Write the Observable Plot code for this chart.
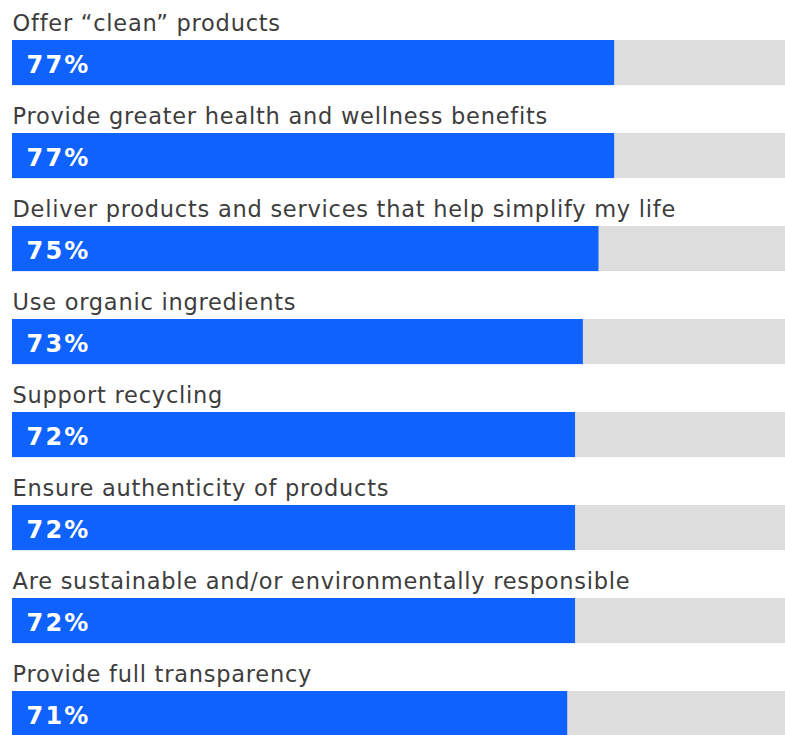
<!DOCTYPE html>
<html>
<head>
<meta charset="utf-8">
<script src="https://cdn.jsdelivr.net/npm/d3@7"></script>
<script src="https://cdn.jsdelivr.net/npm/@observablehq/plot@0.6"></script>
<style>
  body { margin: 0; background: #fff; overflow: hidden; }
  #chart svg { display: block; overflow: hidden; }
</style>
</head>
<body>
<div id="chart"></div>
<script>
const categories = [
  "Offer “clean” products",
  "Provide greater health and wellness benefits",
  "Deliver products and services that help simplify my life",
  "Use organic ingredients",
  "Support recycling",
  "Ensure authenticity of products",
  "Are sustainable and/or environmentally responsible",
  "Provide full transparency"
];
const values = [77, 77, 75, 73, 72, 72, 72, 71];
const fullScale = 100;

const rows = categories.map((c, i) => ({category: c, value: values[i], full: fullScale}));

const pitch = 93.4;
const chart = Plot.plot({
  width: 785,
  height: 735,
  marginTop: 0, marginBottom: 0, marginLeft: 0, marginRight: 0,
  style: {fontFamily: "'DejaVu Sans', sans-serif", background: "#fff"},
  x: {domain: [0, 100], range: [12, 794], axis: null},
  y: {domain: categories, range: [0, pitch * categories.length], padding: 0, axis: null},
  marks: [
    Plot.barX(rows, {x1: 0, x2: "full", y: "category", fill: "#dddddd", insetTop: 38, insetBottom: pitch - 38 - 45.5}),
    Plot.barX(rows, {x1: 0, x2: "value", y: "category", fill: "#0f62fe", insetTop: 38, insetBottom: pitch - 38 - 45.5}),
    Plot.text(rows, {x: 0, y: "category", text: "category", textAnchor: "start", lineAnchor: "bottom", dy: -(pitch / 2 - 38 + 9), fontSize: 22.5, fill: "#3d3d3d"}),
    Plot.text(rows, {x: 0, y: "category", text: d => d.value + "%", textAnchor: "start", dx: 14, dy: 38 + 22.75 - pitch / 2 + 2.5, fontSize: 24, fontWeight: "bold", fill: "#fff"})
  ]
});
const textGroups = chart.querySelectorAll('g[aria-label="text"]');
textGroups[0].style.letterSpacing = "0.75px";
textGroups[1].style.letterSpacing = "2.2px";
document.getElementById("chart").appendChild(chart);
</script>
</body>
</html>
